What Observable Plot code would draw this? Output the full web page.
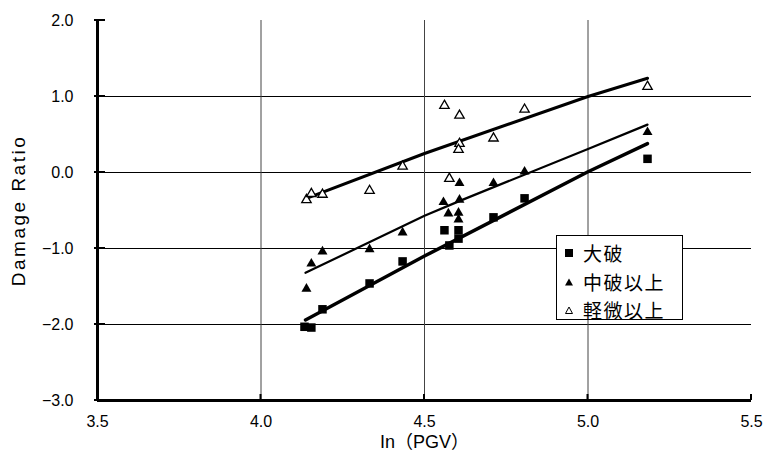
<!DOCTYPE html>
<html>
<head>
<meta charset="utf-8">
<script src="https://cdn.jsdelivr.net/npm/d3@7"></script>
<script src="https://cdn.jsdelivr.net/npm/@observablehq/plot@0.6"></script>
<style>
  body { margin: 0; background: #fff; }
  #wrap { position: relative; width: 764px; height: 467px; }
  #legend {
    position: absolute; left: 556px; top: 235px; width: 127px; height: 85px;
    border: 1px solid #000; background: #fff; box-sizing: border-box;
    font-family: "Noto Sans CJK JP", sans-serif; font-size: 19px; line-height: 21px; color: #000;
  }
  #legend .row { position: absolute; left: 7px; height: 21px; display: flex; align-items: center; white-space: nowrap; }
  #legend .row span { line-height: 21px; letter-spacing: 1.5px; }
  #legend svg { margin-right: 9px; }
</style>
</head>
<body>
<div id="wrap"></div>
<script>
// ---- data ----
const seriesNames = ["大破", "中破以上", "軽微以上"];

const majorX = [4.133, 4.154, 4.188, 4.332, 4.433, 4.561, 4.604, 4.604, 4.576, 4.711, 4.806, 5.182];
const majorY = [-2.03, -2.04, -1.80, -1.46, -1.17, -0.76, -0.76, -0.87, -0.96, -0.59, -0.34, 0.18];

const moderateX = [4.139, 4.154, 4.188, 4.332, 4.433, 4.558, 4.607, 4.573, 4.604, 4.604, 4.607, 4.711, 4.806, 5.182];
const moderateY = [-1.53, -1.20, -1.04, -1.01, -0.79, -0.39, -0.36, -0.54, -0.53, -0.62, -0.14, -0.14, 0.01, 0.53];

const slightX = [4.139, 4.154, 4.188, 4.332, 4.433, 4.561, 4.607, 4.607, 4.604, 4.576, 4.711, 4.806, 5.182];
const slightY = [-0.36, -0.28, -0.29, -0.24, 0.08, 0.88, 0.75, 0.38, 0.30, -0.08, 0.45, 0.83, 1.13];

// fitted lines as drawn
const majorLineX = [4.136, 4.5, 5.0, 5.182];
const majorLineY = [-1.94, -1.10, 0.01, 0.38];
const moderateLineX = [4.136, 4.5, 4.61, 5.0, 5.182];
const moderateLineY = [-1.32, -0.57, -0.37, 0.31, 0.63];
const slightLineX = [4.139, 4.5, 5.0, 5.182];
const slightLineY = [-0.34, 0.25, 1.0, 1.24];

const xTicks = [3.5, 4.0, 4.5, 5.0, 5.5];
const yTicks = [-3, -2, -1, 0, 1, 2];
const xGrid = [4.0, 4.5, 5.0];
const yGrid = [-2, -1, 0, 1];
const xTitle = "In（PGV）";
const yTitle = "Damage Ratio";

const zip = (xs, ys) => xs.map((x, i) => ({x, y: ys[i]}));
const major = zip(majorX, majorY);
const moderate = zip(moderateX, moderateY);
const slight = zip(slightX, slightY);
const majorLine = zip(majorLineX, majorLineY);
const moderateLine = zip(moderateLineX, moderateLineY);
const slightLine = zip(slightLineX, slightLineY);

const fmt = d => d.toFixed(1).replace("-", "\u2212");
const font = "'Liberation Sans', 'Noto Sans CJK JP', sans-serif";

const chart = Plot.plot({
  width: 764,
  height: 467,
  marginLeft: 97,
  marginRight: 13,
  marginTop: 20,
  marginBottom: 67,
  style: {fontFamily: font, fontSize: "16px", color: "#000", background: "#fff"},
  x: {type: "linear", domain: [3.5, 5.5]},
  y: {type: "linear", domain: [-3, 2]},
  marks: [
    Plot.ruleY(yGrid, {stroke: "#000", strokeWidth: 1}),
    Plot.ruleX(xGrid, {stroke: "#444", strokeWidth: 1}),
    Plot.axisX(xTicks, {tickSize: 0, tickPadding: 15, tickFormat: fmt, fontSize: 16, label: null}),
    Plot.axisY(yTicks, {tickSize: 0, tickPadding: 24, tickFormat: fmt, fontSize: 16, label: null}),
    Plot.text([xTitle], {frameAnchor: "bottom", dy: 47, fontSize: 18, fill: "#000", textAnchor: "middle"}),
    Plot.text([yTitle], {frameAnchor: "left", dx: -79, rotate: -90, fontSize: 19, fill: "#000", textAnchor: "middle"}),
    Plot.line(slightLine, {x: "x", y: "y", stroke: "#000", strokeWidth: 3}),
    Plot.line(moderateLine, {x: "x", y: "y", stroke: "#000", strokeWidth: 2.2}),
    Plot.line(majorLine, {x: "x", y: "y", stroke: "#000", strokeWidth: 3.4}),
    Plot.dot(major, {x: "x", y: "y", symbol: "square", r: 4.8, fill: "#000", stroke: "none"}),
    Plot.dot(moderate, {x: "x", y: "y", symbol: "triangle", r: 3.7, fill: "#000", stroke: "none"}),
    Plot.dot(slight, {x: "x", y: "y", symbol: "triangle", r: 3.5, fill: "#fff", stroke: "#000", strokeWidth: 1.3}),
    Plot.ruleX([3.5], {stroke: "#000", strokeWidth: 3}),
    Plot.ruleY([-3], {stroke: "#000", strokeWidth: 3})
  ]
});

const svg = d3.select(chart);
svg.selectAll("text").filter(function () { return this.textContent === yTitle; })
  .attr("letter-spacing", "2.5px");

// inward tick marks, positioned with Plot's own scales
const sx = chart.scale("x"), sy = chart.scale("y");
const g = svg.append("g").attr("stroke", "#000").attr("stroke-width", 2);
xTicks.forEach(t => {
  const px = sx.apply(t), py = sy.apply(-3);
  g.append("line").attr("x1", px).attr("x2", px).attr("y1", py).attr("y2", py - 6);
});
yTicks.forEach(t => {
  const px = sx.apply(3.5), py = sy.apply(t);
  g.append("line").attr("x1", px - 3).attr("x2", px + 8).attr("y1", py).attr("y2", py);
});

const wrap = document.getElementById("wrap");
wrap.appendChild(chart);

// legend overlay
const legend = document.createElement("div");
legend.id = "legend";
const symbols = [
  '<svg width="10" height="10"><rect x="1" y="1" width="8" height="8" fill="#000"/></svg>',
  '<svg width="10" height="10"><path d="M5,1.5L9,8.5H1Z" fill="#000"/></svg>',
  '<svg width="10" height="10"><path d="M5,2L8.5,8.5H1.5Z" fill="#fff" stroke="#000" stroke-width="1"/></svg>'
];
const rowTops = [6, 35, 63];
seriesNames.forEach((name, i) => {
  const row = document.createElement("div");
  row.className = "row";
  row.style.top = rowTops[i] + "px";
  row.innerHTML = symbols[i] + "<span>" + name + "</span>";
  legend.appendChild(row);
});
wrap.appendChild(legend);
</script>
</body>
</html>
